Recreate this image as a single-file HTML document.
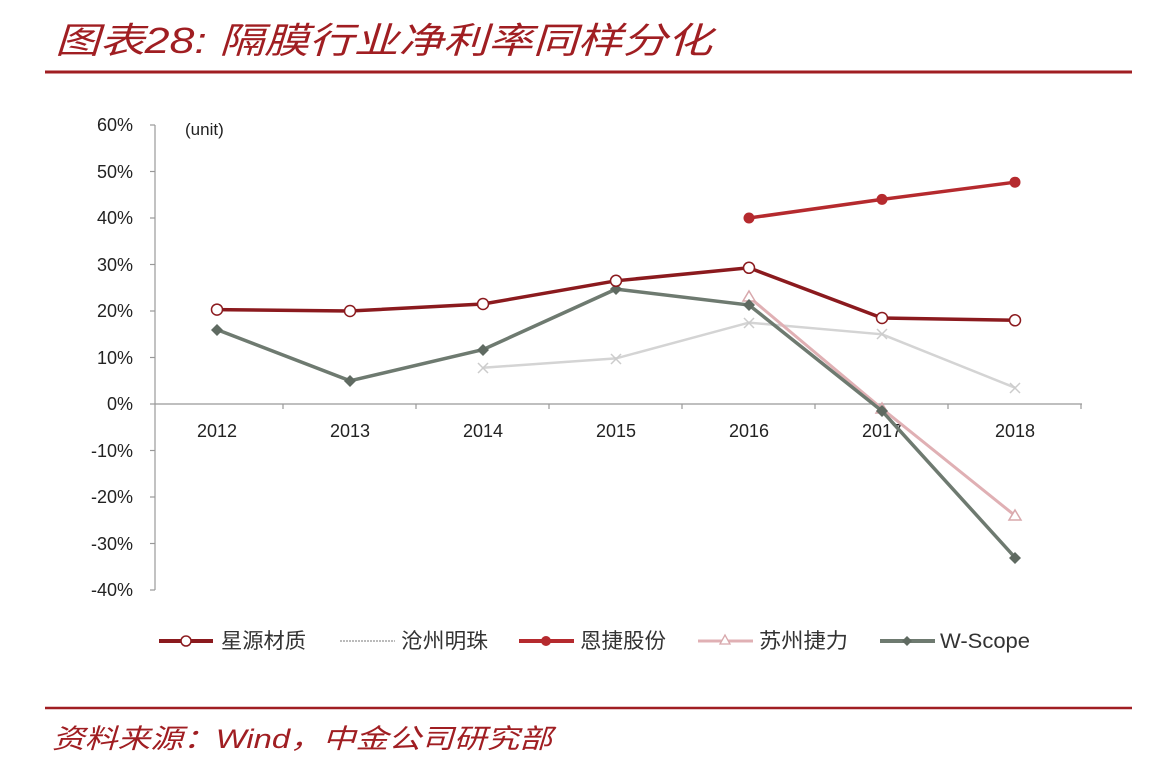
<!DOCTYPE html>
<html><head><meta charset="utf-8"><style>
body{margin:0;background:#fff;width:1160px;height:784px;overflow:hidden}
svg{display:block}
</style></head><body>
<svg width="1160" height="784" viewBox="0 0 1160 784" font-family="'Liberation Sans','Noto Sans CJK SC',sans-serif">
<text x="55" y="53" font-size="36" fill="#a01e22" font-style="italic" textLength="657" lengthAdjust="spacingAndGlyphs" font-family="'Liberation Sans','Noto Sans CJK SC',sans-serif">图表28: 隔膜行业净利率同样分化</text>
<line x1="45" y1="72" x2="1132" y2="72" stroke="#a01e22" stroke-width="3"/>
<line x1="45" y1="708" x2="1132" y2="708" stroke="#a01e22" stroke-width="2.5"/>
<text x="52" y="748" font-size="27" fill="#a01e22" font-style="italic" textLength="500" lengthAdjust="spacingAndGlyphs" font-family="'Liberation Sans','Noto Sans CJK SC',sans-serif">资料来源：Wind，中金公司研究部</text>
<g stroke="#999" stroke-width="1.2">
<line x1="155" y1="125" x2="155" y2="590"/>
<line x1="155" y1="404" x2="1082" y2="404"/>
<line x1="150" y1="125" x2="155" y2="125"/><line x1="150" y1="171.5" x2="155" y2="171.5"/><line x1="150" y1="218" x2="155" y2="218"/><line x1="150" y1="264.5" x2="155" y2="264.5"/><line x1="150" y1="311" x2="155" y2="311"/><line x1="150" y1="357.5" x2="155" y2="357.5"/><line x1="150" y1="404" x2="155" y2="404"/><line x1="150" y1="450.5" x2="155" y2="450.5"/><line x1="150" y1="497" x2="155" y2="497"/><line x1="150" y1="543.5" x2="155" y2="543.5"/><line x1="150" y1="590" x2="155" y2="590"/>
<line x1="283" y1="404" x2="283" y2="409"/><line x1="416" y1="404" x2="416" y2="409"/><line x1="549" y1="404" x2="549" y2="409"/><line x1="682" y1="404" x2="682" y2="409"/><line x1="815" y1="404" x2="815" y2="409"/><line x1="948" y1="404" x2="948" y2="409"/><line x1="1081" y1="404" x2="1081" y2="409"/>
</g>
<g font-size="18" fill="#222" text-anchor="end">
<text x="133" y="131">60%</text><text x="133" y="178">50%</text><text x="133" y="224">40%</text><text x="133" y="271">30%</text><text x="133" y="317">20%</text><text x="133" y="364">10%</text><text x="133" y="410">0%</text><text x="133" y="457">-10%</text><text x="133" y="503">-20%</text><text x="133" y="550">-30%</text><text x="133" y="596">-40%</text>
</g>
<text x="185" y="135" font-size="17" fill="#222">(unit)</text>
<g font-size="18" fill="#222" text-anchor="middle">
<text x="217" y="437">2012</text><text x="350" y="437">2013</text><text x="483" y="437">2014</text><text x="616" y="437">2015</text><text x="749" y="437">2016</text><text x="882" y="437">2017</text><text x="1015" y="437">2018</text>
</g>
<polyline points="483,367.7 616,358.4 749,322.6 882,334.3 1015,387.7" fill="none" stroke="#d4d4d4" stroke-width="2.5"/>
<g stroke="#ccc" stroke-width="1.5">
<path d="M478,363l10,10M488,363l-10,10M611,354l10,10M621,354l-10,10M744,318l10,10M754,318l-10,10M877,329l10,10M887,329l-10,10M1010,383l10,10M1020,383l-10,10"/>
</g>
<polyline points="749,297 882,408.7 1015,515.6" fill="none" stroke="#e0b0b4" stroke-width="3"/>
<g fill="#fff" stroke="#d8a8ac" stroke-width="1.5">
<path d="M749,291l6,10h-12z"/><path d="M882,403l6,10h-12z"/><path d="M1015,510l6,10h-12z"/>
</g>
<polyline points="217,329.6 350,380.8 483,349.6 616,289.1 749,305 882,411 1015,557.5" fill="none" stroke="#6e7a70" stroke-width="3.5"/>
<g fill="#5f6a61">
<path d="M217,324l6,6-6,6-6-6z"/><path d="M350,375l6,6-6,6-6-6z"/><path d="M483,344l6,6-6,6-6-6z"/><path d="M616,283l6,6-6,6-6-6z"/><path d="M749,299l6,6-6,6-6-6z"/><path d="M882,405l6,6-6,6-6-6z"/><path d="M1015,552l6,6-6,6-6-6z"/>
</g>
<polyline points="217,309.6 350,311 483,304 616,280.8 749,267.8 882,318 1015,320.3" fill="none" stroke="#8b1a1e" stroke-width="3.5"/>
<g fill="#fff" stroke="#8b1a1e" stroke-width="1.5">
<circle cx="217" cy="309.6" r="5.5"/><circle cx="350" cy="311" r="5.5"/><circle cx="483" cy="304" r="5.5"/><circle cx="616" cy="280.8" r="5.5"/><circle cx="749" cy="267.8" r="5.5"/><circle cx="882" cy="318" r="5.5"/><circle cx="1015" cy="320.3" r="5.5"/>
</g>
<polyline points="749,218 882,199.4 1015,182.2" fill="none" stroke="#b52a2e" stroke-width="3.5"/>
<g fill="#b52a2e"><circle cx="749" cy="218" r="5.5"/><circle cx="882" cy="199.4" r="5.5"/><circle cx="1015" cy="182.2" r="5.5"/></g>
<g font-size="21" fill="#333">
<line x1="159" y1="641" x2="213" y2="641" stroke="#8b1a1e" stroke-width="4"/><circle cx="186" cy="641" r="5" fill="#fff" stroke="#8b1a1e" stroke-width="1.5"/>
<text x="221" y="648" textLength="85" lengthAdjust="spacingAndGlyphs">星源材质</text>
<line x1="340" y1="641" x2="395" y2="641" stroke="#bbb" stroke-width="2" stroke-dasharray="2,1"/>
<text x="401" y="648" textLength="87" lengthAdjust="spacingAndGlyphs">沧州明珠</text>
<line x1="519" y1="641" x2="574" y2="641" stroke="#b52a2e" stroke-width="4"/><circle cx="546" cy="641" r="5" fill="#b52a2e"/>
<text x="580" y="648" textLength="86" lengthAdjust="spacingAndGlyphs">恩捷股份</text>
<line x1="698" y1="641" x2="753" y2="641" stroke="#e0b0b4" stroke-width="3"/><path d="M725,635l5,9h-10z" fill="#fff" stroke="#d8a8ac" stroke-width="1.3"/>
<text x="759" y="648" textLength="89" lengthAdjust="spacingAndGlyphs">苏州捷力</text>
<line x1="880" y1="641" x2="935" y2="641" stroke="#6e7a70" stroke-width="4"/><path d="M907,636l5,5-5,5-5-5z" fill="#5f6a61"/>
<text x="940" y="648" textLength="90" lengthAdjust="spacingAndGlyphs">W-Scope</text>
</g>
</svg>
</body></html>
